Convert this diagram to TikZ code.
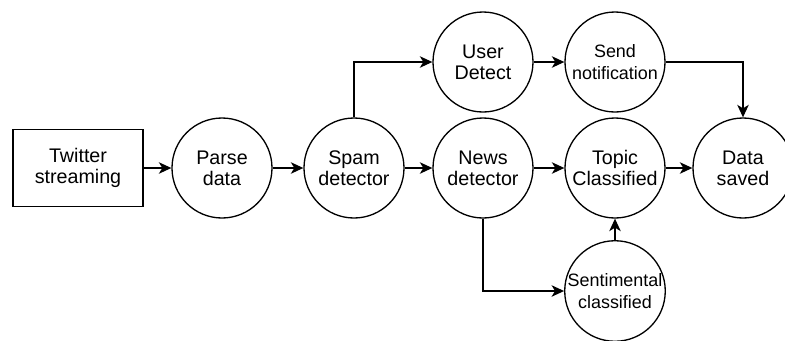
\documentclass[tikz,border=0pt]{standalone}
\usepackage{fontspec}
\setmainfont{Liberation Sans}
\usetikzlibrary{
    arrows.meta,
    positioning
}
\tikzset{
    % Base style for all nodes
    flow base/.style={
        font=\fontsize{11.2}{12.1}\selectfont,
        align=center,
        draw=black,
        line width=0.75pt,
        inner sep=0pt,
    },
    % Source node - plain rectangle
    source/.style={
        flow base,
        rectangle,
        minimum width=2.6cm,
        minimum height=1.54cm,
    },
    % Stage nodes - circles
    stage/.style={
        flow base,
        circle,
        minimum size=2cm,
    },
    % Stage with longer words - smaller text
    stage small/.style={
        stage,
        font=\fontsize{10.2}{12.4}\selectfont,
    },
    % Arrow style
    arrow/.style={
        -{Stealth[length=2.5mm, width=2.3mm, inset=0.7mm]},
        line width=0.75pt,
    },
}
\begin{document}
\begin{tikzpicture}[node distance=2.6cm]
    \useasboundingbox (-4.44,3.36) rectangle (11.26,-3.44);
    \node (parse) [stage] {Parse\\data};
    \node (twitter) [source, left of=parse, node distance=2.88cm] {Twitter\\streaming};
    \node (spam) [stage, right of=parse, node distance=2.64cm] {Spam\\detector};
    \node (news) [stage, right of=spam, node distance=2.58cm] {News\\detector};
    \node (topic) [stage, right of=news, node distance=2.64cm] {Topic\\Classified};
    \node (saved) [stage, right of=topic, node distance=2.56cm] {Data\\saved};
    \node (user) [stage, above of=news, node distance=2.12cm] {User\\Detect};
    \node (notify) [stage small, above of=topic, node distance=2.12cm] {Send\\notification};
    \node (senti) [stage small, below of=topic, node distance=2.46cm] {Sentimental\\classified};

    \draw [arrow] (twitter) -- (parse);
    \draw [arrow] (parse) -- (spam);
    \draw [arrow] (spam) -- (news);
    \draw [arrow] (news) -- (topic);
    \draw [arrow] (topic) -- (saved);
    \draw [arrow] (spam) |- (user);
    \draw [arrow] (user) -- (notify);
    \draw [arrow] (notify) -| (saved);
    \draw [arrow] (news) |- (senti);
    \draw [arrow] (senti) -- (topic);
\end{tikzpicture}
\end{document}
